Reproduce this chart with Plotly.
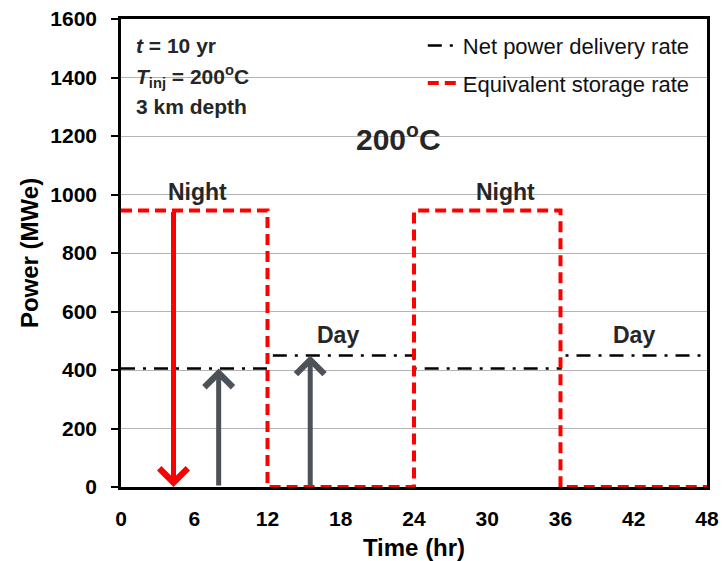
import plotly.graph_objects as go

# Data
time_hr = [0, 12, 24, 36, 48]
net_power = [405, 450, 405, 450, 450]
storage_rate = [945, 0, 945, 0, 0]
x_ticks = [0, 6, 12, 18, 24, 30, 36, 42, 48]
y_ticks = [0, 200, 400, 600, 800, 1000, 1200, 1400, 1600]

# arrows: (x, y_start, y_end, color)
arrow_x = [4.3, 8.0, 15.5]
arrow_from = [945, 0, 0]
arrow_to = [0, 405, 450]
arrow_colors = ["#ff0000", "#4d5259", "#4d5259"]

period_labels = ["Night", "Day", "Night", "Day"]
period_x = [6.3, 17.8, 31.5, 42.0]
period_y = [1010, 518, 1010, 518]

FONT = "Liberation Sans, Arial, sans-serif"
TXT = "#262626"

fig = go.Figure()
fig.add_trace(go.Scatter(
    x=time_hr, y=net_power, mode="lines", line_shape="hv",
    name="Net power delivery rate", legendgroup="a",
    line=dict(color="black", width=2.5, dash="14px,8px,3px,8px"),
))
fig.add_trace(go.Scatter(
    x=time_hr, y=storage_rate, mode="lines", line_shape="hv",
    name="Equivalent storage rate", legendgroup="b",
    line=dict(color="#ff0000", width=4, dash="11px,6px"),
))

annotations = []
for xv, y0, y1, c in zip(arrow_x, arrow_from, arrow_to, arrow_colors):
    annotations.append(dict(
        x=xv, y=y1, ax=xv, ay=y0, xref="x", yref="y", axref="x", ayref="y",
        showarrow=True, arrowhead=4, arrowsize=1.1, arrowwidth=5,
        arrowcolor=c, text="", standoff=0,
    ))
for t, xv, yv in zip(period_labels, period_x, period_y):
    annotations.append(dict(
        x=xv, y=yv, xref="x", yref="y", text="<b>%s</b>" % t, showarrow=False,
        font=dict(family=FONT, size=23, color=TXT), yanchor="middle",
    ))
annotations.append(dict(
    x=22.7, y=1195, xref="x", yref="y", text="<b>200<sup>o</sup>C</b>",
    showarrow=False, font=dict(family=FONT, size=30, color=TXT),
))
info_lines = ["<b><i>t</i> = 10 yr</b>",
              "<b><i>T</i><sub>inj</sub> = 200<sup>o</sup>C</b>",
              "<b>3 km depth</b>"]
info_y = [1508, 1405, 1302]
for t, yv in zip(info_lines, info_y):
    annotations.append(dict(
        x=0.022, y=yv, xref="paper", yref="y", text=t, showarrow=False,
        xanchor="left", yanchor="middle",
        font=dict(family=FONT, size=21, color=TXT),
    ))

fig.update_layout(
    width=727, height=561,
    margin=dict(l=121, r=20, t=19, b=74),
    plot_bgcolor="white", paper_bgcolor="white",
    font=dict(family=FONT, color="black"),
    showlegend=True,
    legend=dict(x=0.515, y=0.988, xanchor="left", yanchor="top",
                bgcolor="rgba(0,0,0,0)", font=dict(family=FONT, size=22, color="#111111"),
                tracegroupgap=6),
    annotations=annotations,
)
fig.update_xaxes(
    range=[0, 48], tickvals=x_ticks, ticktext=["<b>%d</b>" % v for v in x_ticks],
    showline=True, linecolor="black", linewidth=2.5, mirror=True,
    showgrid=False, zeroline=False, ticks="", automargin=False,
    ticklabelstandoff=11,
    tickfont=dict(family=FONT, size=21, color="black"),
    title=dict(text="<b>Time (hr)</b>", font=dict(family=FONT, size=24, color="black"), standoff=11),
)
fig.update_yaxes(
    range=[0, 1600], tickvals=y_ticks, ticktext=["<b>%d</b>" % v for v in y_ticks],
    showline=True, linecolor="black", linewidth=2.5, mirror=True,
    showgrid=True, gridcolor="#b4b4b4", gridwidth=1, zeroline=False,
    ticks="outside", ticklen=7, tickcolor="black", tickwidth=1.5, automargin=False,
    ticklabelstandoff=10,
    tickfont=dict(family=FONT, size=21, color="black"),
    title=dict(text="<b>Power (MWe)</b>", font=dict(family=FONT, size=24, color="black"), standoff=5),
)

fig.write_html("out.html")
